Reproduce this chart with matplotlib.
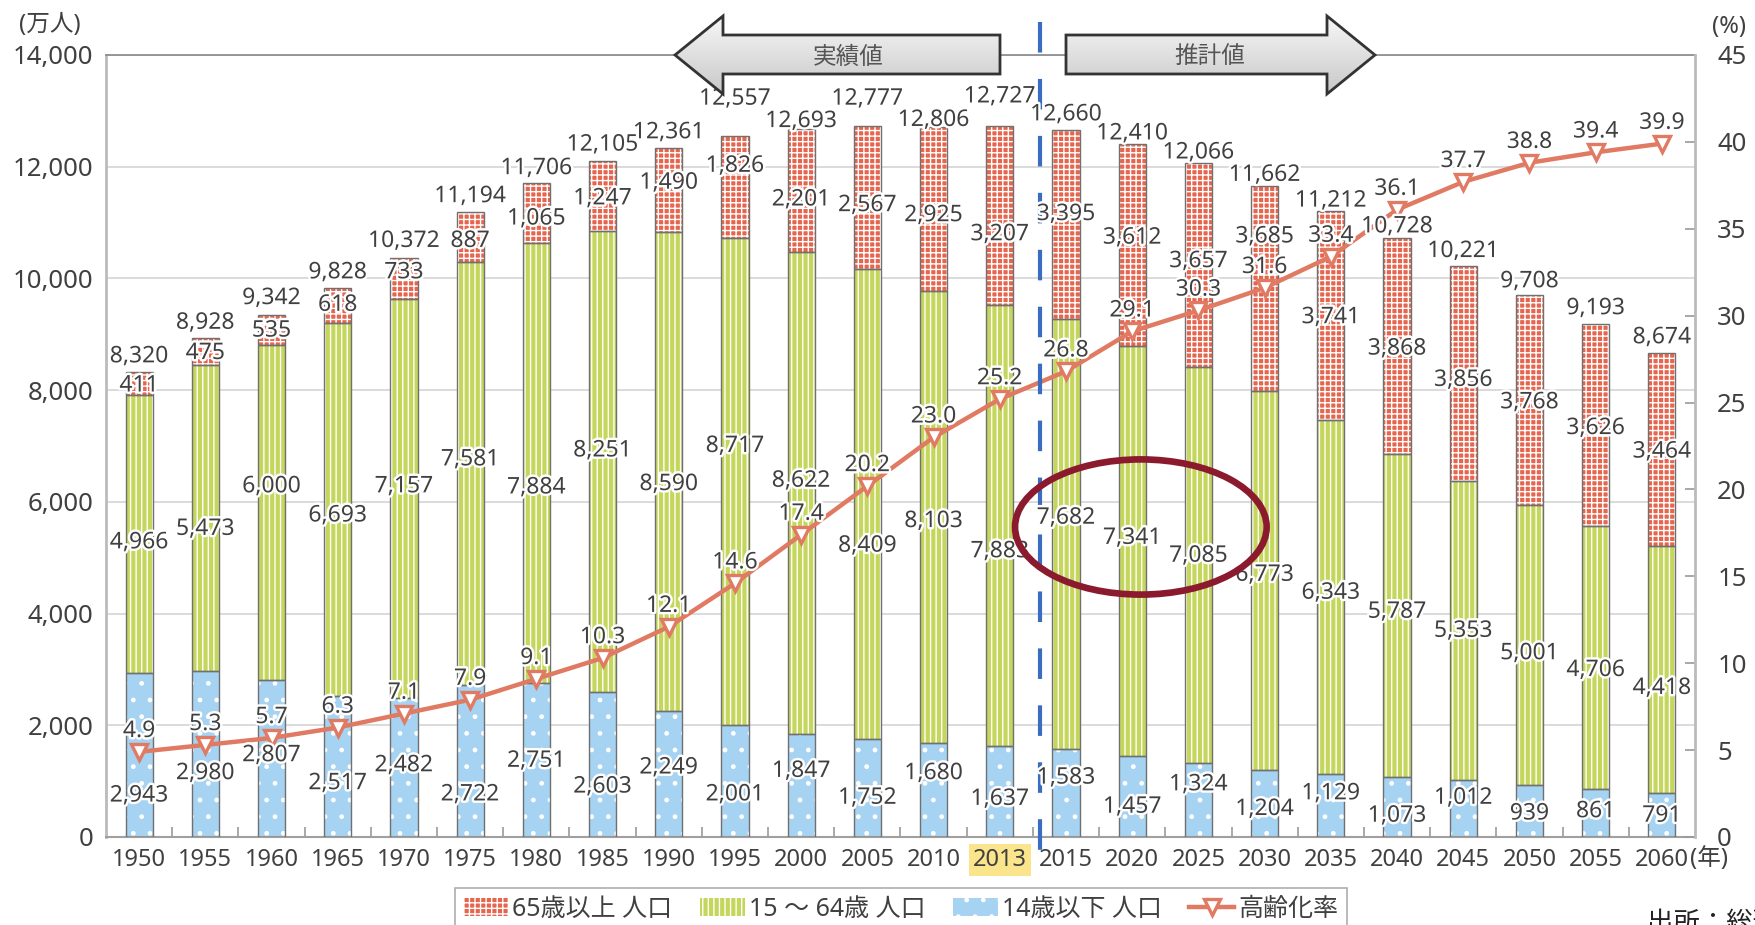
import numpy as np
import matplotlib
matplotlib.use('Agg')
import matplotlib.pyplot as plt
import matplotlib.patheffects as pe
from matplotlib.patches import Polygon, Ellipse
from matplotlib.lines import Line2D
from matplotlib.colors import LinearSegmentedColormap
from matplotlib.transforms import blended_transform_factory

plt.rcParams['font.family'] = ['Noto Sans', 'Noto Sans CJK JP', 'DejaVu Sans']
plt.rcParams['hatch.linewidth'] = 1.0
plt.rcParams['lines.scale_dashes'] = False

years = ['1950', '1955', '1960', '1965', '1970', '1975', '1980', '1985', '1990',
         '1995', '2000', '2005', '2010', '2013', '2015', '2020', '2025', '2030',
         '2035', '2040', '2045', '2050', '2055', '2060']
total_pop = [8320, 8928, 9342, 9828, 10372, 11194, 11706, 12105, 12361, 12557,
             12693, 12777, 12806, 12727, 12660, 12410, 12066, 11662, 11212,
             10728, 10221, 9708, 9193, 8674]
old_pop = [411, 475, 535, 618, 733, 887, 1065, 1247, 1490, 1826, 2201, 2567,
           2925, 3207, 3395, 3612, 3657, 3685, 3741, 3868, 3856, 3768, 3626, 3464]
work_pop = [4966, 5473, 6000, 6693, 7157, 7581, 7884, 8251, 8590, 8717, 8622,
            8409, 8103, 7883, 7682, 7341, 7085, 6773, 6343, 5787, 5353, 5001,
            4706, 4418]
young_pop = [2943, 2980, 2807, 2517, 2482, 2722, 2751, 2603, 2249, 2001, 1847,
             1752, 1680, 1637, 1583, 1457, 1324, 1204, 1129, 1073, 1012, 939,
             861, 791]
aging_rate = [4.9, 5.3, 5.7, 6.3, 7.1, 7.9, 9.1, 10.3, 12.1, 14.6, 17.4, 20.2,
              23.0, 25.2, 26.8, 29.1, 30.3, 31.6, 33.4, 36.1, 37.7, 38.8, 39.4,
              39.9]

# heights (万人) of the value labels, staggered so neighbours don't collide
total_label_y = [8605, 9206, 9648, 10109, 10671, 11473, 11974, 12396, 12616,
                 13218, 12817, 13218, 12837, 13258, 12937, 12596, 12255, 11854,
                 11393, 10931, 10490, 9949, 9467, 8946]
old_label_y = [8083, 8664, 9066, 9527, 10109, 10671, 11072, 11433, 11714, 12016,
               11413, 11312, 11132, 10791, 11152, 10730, 10309, 10751, 9306,
               8744, 8183, 7782, 7321, 6900]
work_label_y = [5275, 5516, 6278, 5756, 6278, 6760, 6258, 6920, 6318, 7000,
                6378, 5215, 5656, 5115, 5716, 5355, 5035, 4694, 4373, 4032,
                3691, 3290, 2989, 2668]
young_label_y = [742, 1143, 1464, 963, 1284, 762, 1364, 903, 1244, 762, 1183,
                 702, 1143, 682, 1063, 542, 943, 501, 782, 381, 702, 421, 461, 381]

TEXT = '#404040'
RED = '#e5654e'
GREEN = '#c4d65c'
BLUE = '#a6d3f2'
LINE = '#e07a62'

W, H = 1755, 925
fig = plt.figure(figsize=(W / 100, H / 100), dpi=100)
ax = fig.add_axes([106 / W, 1 - 837 / H, (1695 - 106) / W, (837 - 55) / H])
ax2 = ax.twinx()

x = np.arange(len(years))
young = np.array(young_pop)
work = np.array(work_pop)
old = np.array(old_pop)
bw = 0.41

# filled, hatched segments (white hatch), then thin grey outlines on top
b_young = ax.bar(x, young, bw, color=BLUE, hatch='.', edgecolor='white', linewidth=0, zorder=2)
b_work = ax.bar(x, work, bw, bottom=young, color=GREEN, hatch='|||', edgecolor='white', linewidth=0, zorder=2)
b_old = ax.bar(x, old, bw, bottom=young + work, color=RED, hatch='+++', edgecolor='white', linewidth=0, zorder=2)
for vals, base in ((young, 0), (work, young), (old, young + work)):
    ax.bar(x, vals, bw, bottom=base, fill=False, edgecolor='#707070', linewidth=1, zorder=3)

ax2.plot(x, aging_rate, color=LINE, lw=3.2, marker='v', ms=12, mfc='white',
         mec=LINE, mew=2.4, zorder=4)

# axes styling
ax.set_xlim(-0.5, len(years) - 0.5)
ax.set_ylim(0, 14000)
yt = np.arange(0, 14001, 2000)
ax.set_yticks(yt)
ax.set_yticklabels([f'{v:,}' for v in yt])
ax.yaxis.grid(True, color='#d8d8d8', lw=1.3)
ax.set_axisbelow(True)
ax.tick_params(axis='y', length=0, pad=9, labelsize=18.5, labelcolor=TEXT)
ax.set_xticks(x)
ax.set_xticklabels(years)
ax.tick_params(axis='x', which='major', length=0, pad=8, labelsize=17, labelcolor=TEXT)
ax.set_xticks(x[:-1] + 0.5, minor=True)
ax.tick_params(axis='x', which='minor', direction='in', length=7, width=1.2, color='#999999')
ax.get_xticklabels()[13].set_bbox(dict(facecolor='#fbe58c', edgecolor='none', pad=3))

ax.spines['left'].set_color('#bbbbbb')
ax.spines['left'].set_linewidth(2)
ax.spines['bottom'].set_color('#a0a0a0')
ax.spines['bottom'].set_linewidth(1.5)
ax.spines['top'].set_color('#888888')
ax.spines['top'].set_linewidth(1.2)
ax.spines['right'].set_visible(False)

ax2.set_ylim(0, 45)
ax2.set_yticks(np.arange(0, 46, 5))
ax2.tick_params(axis='y', direction='in', length=7, width=1.2, color='#999999',
                pad=16, labelsize=18.5, labelcolor=TEXT)
for side in ('left', 'top', 'bottom'):
    ax2.spines[side].set_visible(False)
ax2.spines['right'].set_color('#bbbbbb')
ax2.spines['right'].set_linewidth(2)

ax.annotate('(年)', xy=(23, 0), xycoords=ax.get_xaxis_transform(), xytext=(20, -15.5),
            textcoords='offset points', ha='left', va='center', fontsize=17, color=TEXT)

# value labels
halo = [pe.withStroke(linewidth=3.5, foreground='white')]


def put_label(xi, yi, s):
    ax2.text(xi, yi, s, transform=ax.transData, ha='center', va='center',
             fontsize=16.5, color=TEXT, path_effects=halo, zorder=6)


for i in x:
    put_label(i, total_label_y[i], f'{total_pop[i]:,}')
    put_label(i, old_label_y[i], f'{old_pop[i]:,}')
    put_label(i, work_label_y[i], f'{work_pop[i]:,}')
    put_label(i, young_label_y[i], f'{young_pop[i]:,}')
    ax2.annotate(f'{aging_rate[i]:.1f}', xy=(i, aging_rate[i]), xytext=(0, 15),
                 textcoords='offset points', ha='center', va='center',
                 fontsize=16.5, color=TEXT, path_effects=halo, zorder=6)

# boundary between actual figures and projections
trans = blended_transform_factory(ax.transData, fig.transFigure)
ax2.plot([13.6, 13.6], [1 - 22 / H, 1 - 851 / H], transform=trans, color='#3a6cc2',
         lw=3, dashes=(22, 19), clip_on=False, zorder=5)

ax2.add_patch(Ellipse((15.13, 5550), 3.8, 2420, transform=ax.transData, fill=False,
                      edgecolor='#8b1a2e', lw=4.8, zorder=7))
ax2.set_ylim(0, 45)
ax.set_xlim(-0.5, len(years) - 0.5)

# overlay in pixel coordinates for the arrows and loose texts
deco = fig.add_axes([0, 0, 1, 1], zorder=10)
deco.axis('off')
shade = LinearSegmentedColormap.from_list('shade', ['#f7f7f7', '#c8c8c8'])
grad = np.linspace(0, 1, 100).reshape(-1, 1)
left_arrow = [(675, 55), (723, 16), (723, 35), (1000, 35), (1000, 74), (723, 74), (723, 94)]
right_arrow = [(1066, 35), (1327, 35), (1327, 16), (1375, 55), (1327, 94), (1327, 74), (1066, 74)]
for verts, text, tx in ((left_arrow, '実績値', 848), (right_arrow, '推計値', 1210)):
    poly = Polygon(verts, closed=True, facecolor='none', edgecolor='#333333', lw=2,
                   joinstyle='miter', zorder=3)
    deco.add_patch(poly)
    xs, ys = zip(*verts)
    img = deco.imshow(grad, cmap=shade, extent=(min(xs), max(xs), max(ys), min(ys)),
                      aspect='auto', zorder=2)
    img.set_clip_path(poly)
    deco.text(tx, 57, text, ha='center', va='center', fontsize=17, color='#555555',
              family=['Noto Sans CJK JP'], zorder=4)

deco.text(50, 25, '(万人)', ha='center', va='center', fontsize=17, color=TEXT)
deco.text(1729, 27, '(%)', ha='center', va='center', fontsize=17, color=TEXT)
deco.text(1647, 910, '出所：総務省「人口推計」', ha='left', va='top', fontsize=19, color='#222222')
deco.set_xlim(0, W)
deco.set_ylim(H, 0)

handles = [b_old, b_work, b_young,
           Line2D([], [], color=LINE, lw=3.2, marker='v', ms=12, mfc='white', mec=LINE, mew=2.4)]
labels = ['65歳以上 人口', '15 ～ 64歳 人口', '14歳以下 人口', '高齢化率']
leg = fig.legend(handles, labels, loc='upper left', bbox_to_anchor=(455 / W, 1 - 888 / H),
                 ncol=4, frameon=True, fancybox=False, edgecolor='#999999', fontsize=18,
                 handlelength=1.8, handleheight=0.7, handletextpad=0.15,
                 columnspacing=1.1, borderaxespad=0, borderpad=0.35)
leg.get_frame().set_linewidth(1.2)
for t in leg.get_texts():
    t.set_color(TEXT)

fig.savefig('out.png', dpi=100)
